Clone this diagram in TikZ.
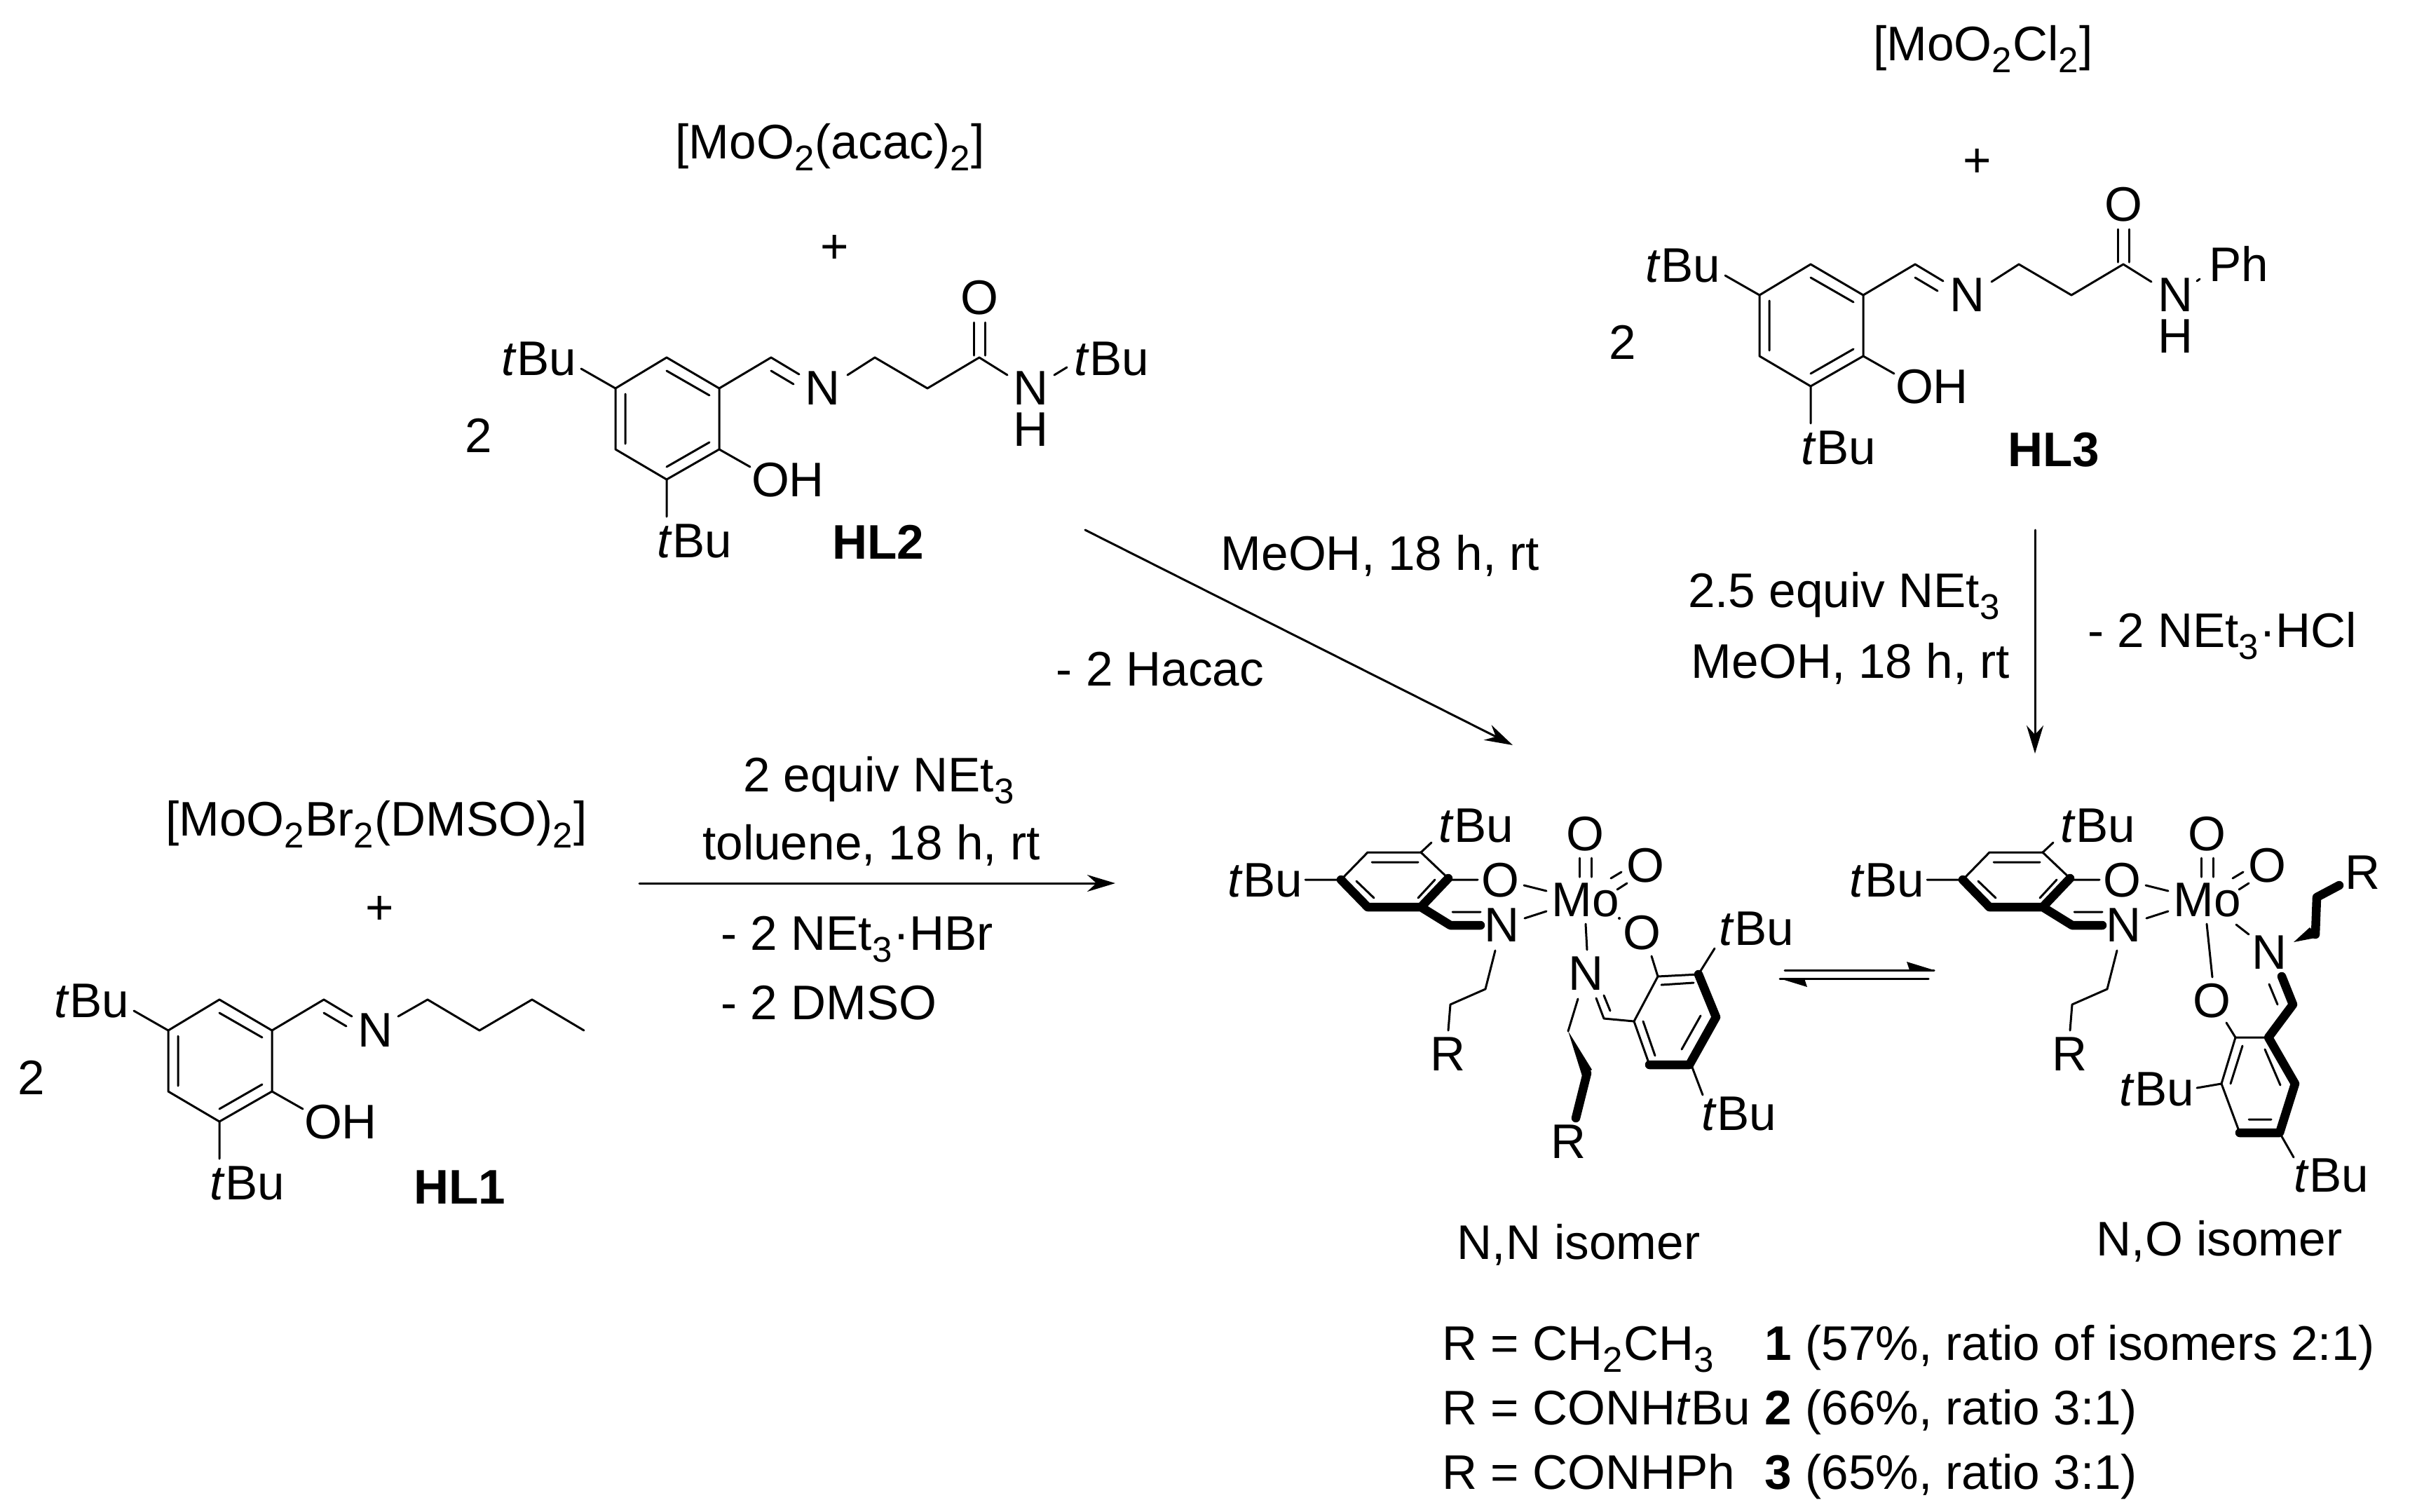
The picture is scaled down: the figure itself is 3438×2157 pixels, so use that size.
\documentclass[tikz,border=0pt]{standalone}
\usepackage{fontspec}
\setmainfont{Liberation Sans}
\usetikzlibrary{arrows.meta}
\newcommand{\sbs}[1]{\raisebox{-.24em}{\fontsize{14.5}{14.5}\selectfont #1}\kern.4pt}
\newcommand{\tbu}{\textit{t}Bu}
\tikzset{
	bond/.style={line width=.03cm},
	boldbond/.style={line width=.125cm},
	atom/.style={inner sep=0pt,text height=14pt,text depth=0pt},
	rxn/.style={line width=.03cm,-{Stealth[length=.4cm,width=.24cm]}},
}
\newcommand{\ArylImine}[3]{
	\begin{scope}[shift={(#2,#3)},name prefix=#1]
		\draw[bond] (951,510)--(1026,554)--(1026,641)--(951,684)--(878,641)--(878,554)--cycle;
		\draw[bond] (951,529)--(1012,564) (892,562)--(892,633) (1012,631)--(951,666);
		\draw[bond] (878,554)--(829,526) (1026,641)--(1070,666) (951,684)--(951,737);
		\draw[bond] (1026,554)--(1100,510)--(1140,534) (1100,529)--(1132,548);
		\node[atom] (tbua) at (769,511) {\tbu};
		\node[atom] (tbub) at (991,771) {\tbu};
		\node[atom] (n) at (1174,553) {N};
		\node[atom] (oh) at (1124,684) {OH};
	\end{scope}
}
\newcommand{\AmideArm}[3]{
	\begin{scope}[shift={(#2,#3)},name prefix=#1]
		\draw[bond] (1209,535)--(1248,510)--(1323,554)--(1397,510)--(1437,535);
		\draw[bond] (1389,460)--(1389,507) (1405,460)--(1405,507);
		\node[atom] (o) at (1397,424) {O};
		\node[atom] (nh) at (1471,553) {N};
		\node[atom] (h) at (1471,612) {H};
	\end{scope}
}
\newcommand{\MoHalf}[3]{
	\begin{scope}[shift={(#2,#3)},name prefix=#1]
		\draw[bond] (1913,1255)--(1951,1216)--(2027,1216)--(2066,1253);
		\draw[boldbond] (1913,1255)--(1951,1294)--(2027,1294)--(2066,1253) (2027,1294)--(2069,1320)--(2112,1320);
		\draw[bond] (1957,1230)--(2023,1230) (1935,1257)--(1960,1281) (2047,1255)--(2023,1281) (2072,1301)--(2112,1301);
		\draw[bond] (2027,1216)--(2042,1202) (1913,1255)--(1862,1255) (2066,1255)--(2108,1255);
		\draw[bond] (2174,1263)--(2206,1271) (2175,1310)--(2206,1300);
		\draw[bond] (2253,1224)--(2253,1251) (2270,1224)--(2270,1251);
		\draw[bond] (2298,1253)--(2313,1244) (2307,1269)--(2321,1260);
		\draw[bond] (2133,1356)--(2119,1411)--(2069,1433)--(2066,1470);
		\node[atom] (tbua) at (2106,1177) {\tbu};
		\node[atom] (tbub) at (1805,1255) {\tbu};
		\node[atom] (oa) at (2140,1255) {O};
		\node[atom] (na) at (2142,1319) {N};
		\node[atom] (mo) at (2262,1283) {Mo};
		\node[atom] (ob) at (2261,1189) {O};
		\node[atom] (oc) at (2347,1234) {O};
		\node[atom] (ra) at (2065,1503) {R};
	\end{scope}
}
\begin{document}
\begin{tikzpicture}[x=.01cm, y=-.01cm, line join=round, line cap=round, font=\fontsize{19.7}{23.5}\selectfont]
		\useasboundingbox (0,0) rectangle (3438,2157);
		\ArylImine{two}{0}{0}
		\AmideArm{two}{0}{0}
		\draw[bond] (1504,535)--(1522,524);
		\node[atom] (twotbu) at (1586,511) {\tbu};
		\node[atom] (twocount) at (683,621) {2};
		\node[atom] (twolabel) at (1253,773) {\textbf{HL2}};
		\node[atom] (acac) at (1184,202) {[MoO\sbs{2}(acac)\sbs{2}]};
		\node[atom] (acacplus) at (1191,351) {+};
		\ArylImine{three}{1632}{-133}
		\AmideArm{three}{1632}{-133}
		\draw[bond] (3134,401)--(3138,398);
		\node[atom] (threeph) at (3194,377) {Ph};
		\node[atom] (threecount) at (2315,488) {2};
		\node[atom] (threelabel) at (2930,641) {\textbf{HL3}};
		\node[atom] (cl) at (2829,62) {[MoO\sbs{2}Cl\sbs{2}]};
		\node[atom] (clplus) at (2821,228) {+};
		\ArylImine{one}{-638}{916}
		\draw[bond] (568,1450)--(610,1426)--(684,1470)--(759,1426)--(833,1470);
		\node[atom] (onecount) at (45,1537) {2};
		\node[atom] (onelabel) at (656,1693) {\textbf{HL1}};
		\node[atom] (br) at (537,1168) {[MoO\sbs{2}Br\sbs{2}(DMSO)\sbs{2}]};
		\node[atom] (brplus) at (542,1294) {+};
		\coordinate (twostart) at (1548,756);
		\coordinate (twoend) at (2158,1063);
		\draw[rxn] (twostart)--(twoend);
		\node[atom] (twomeoh) at (1969,789) {MeOH, 18 h, rt};
		\node[atom] (hacac) at (1655,954) {- 2 Hacac};
		\coordinate (threestart) at (2903,756);
		\coordinate (threeend) at (2903,1075);
		\draw[rxn] (threestart)--(threeend);
		\node[atom] (threeequiv) at (2631,842) {2.5 equiv NEt\sbs{3}};
		\node[atom] (threemeoh) at (2640,943) {MeOH, 18 h, rt};
		\node[atom] (hcl) at (3170,899) {- 2 NEt\sbs{3}·HCl};
		\coordinate (onestart) at (912,1260);
		\coordinate (oneend) at (1591,1260);
		\draw[rxn] (onestart)--(oneend);
		\node[atom] (oneequiv) at (1254,1105) {2 equiv NEt\sbs{3}};
		\node[atom] (toluene) at (1243,1202) {toluene, 18 h, rt};
		\node[atom,anchor=west] (hbr) at (1028,1331) {- 2 NEt\sbs{3}·HBr};
		\node[atom,anchor=west] (dmso) at (1028,1430) {- 2 DMSO};
		% N,N isomer
		\MoHalf{nn}{0}{0}
		\draw[boldbond] (2423,1390)--(2448,1451)--(2410,1519)--(2353,1519);
		\draw[bond] (2423,1390)--(2365,1393)--(2331,1457)--(2353,1519);
		\draw[bond] (2370,1405)--(2416,1402) (2344,1457)--(2361,1506) (2426,1449)--(2399,1497);
		\draw[bond] (2262,1318)--(2264,1355) (2356,1364)--(2365,1393);
		\draw[bond] (2426,1385)--(2446,1353) (2413,1520)--(2429,1562);
		\draw[bond] (2331,1457)--(2288,1453)--(2277,1424) (2297,1442)--(2288,1420);
		\draw[bond] (2251,1425)--(2237,1471);
		\fill (2237,1471)--(2257,1535)--(2271,1526)--cycle;
		\draw[boldbond] (2264,1531)--(2248,1595);
		\fill (2310,1310) circle (2);
		\node[atom] (nnob) at (2342,1330) {O};
		\node[atom] (nnnb) at (2262,1388) {N};
		\node[atom] (nntbuc) at (2506,1324) {\tbu};
		\node[atom] (nntbud) at (2481,1588) {\tbu};
		\node[atom] (nnrb) at (2237,1628) {R};
		\node[atom] (nnname) at (2252,1772) {N,N isomer};
		% N,O isomer
		\MoHalf{no}{887}{0}
		\draw[boldbond] (3255,1393)--(3271,1433)--(3236,1480)--(3274,1546)--(3252,1616)--(3195,1616);
		\draw[bond] (3236,1480)--(3189,1480)--(3169,1546)--(3195,1616);
		\draw[bond] (3199,1492)--(3182,1546) (3231,1497)--(3253,1548) (3208,1597)--(3240,1597) (3237,1404)--(3249,1433);
		\draw[bond] (3190,1319)--(3208,1333) (3148,1318)--(3156,1394) (3176,1459)--(3189,1480);
		\draw[bond] (3169,1546)--(3134,1552) (3252,1616)--(3272,1651);
		\fill (3272,1344)--(3308,1337)--(3295,1323)--cycle;
		\draw[boldbond] (3303,1333)--(3305,1280)--(3337,1263);
		\node[atom] (noob) at (3155,1427) {O};
		\node[atom] (nonb) at (3237,1358) {N};
		\node[atom] (norb) at (3370,1244) {R};
		\node[atom] (notbuc) at (3077,1553) {\tbu};
		\node[atom] (notbud) at (3326,1676) {\tbu};
		\node[atom] (noname) at (3166,1767) {N,O isomer};
		% equilibrium
		\coordinate (eqtop) at (2546,1384);
		\coordinate (eqtip) at (2759,1384);
		\coordinate (eqlow) at (2751,1396);
		\coordinate (eqback) at (2539,1396);
		\draw[bond] (eqtop)--(eqtip) (eqlow)--(eqback);
		\fill (eqtip)--(2720,1372)--(2724,1384)--cycle;
		\fill (eqback)--(2578,1408)--(2574,1396)--cycle;
		% table
		\foreach \y/\r/\res in {1916/CH\sbs{2}CH\sbs{3}/\textbf{1} (57\%{,} ratio of isomers 2:1),2008/CONH\tbu/\textbf{2} (66\%{,} ratio 3:1),2100/CONHPh/\textbf{3} (65\%{,} ratio 3:1)}{
			\node[atom,anchor=west] (r\y) at (2057,\y) {R = \r};
			\node[atom,anchor=west] (res\y) at (2517,\y) {\res};
		}
\end{tikzpicture}
\end{document}
